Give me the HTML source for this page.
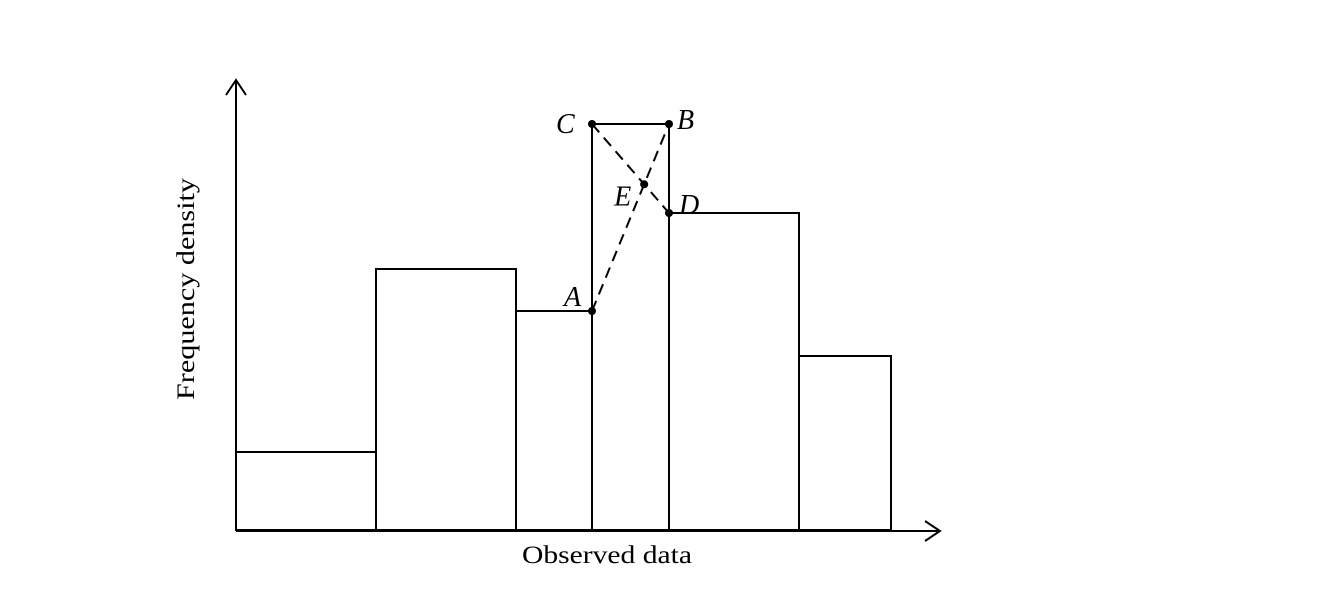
<!DOCTYPE html>
<html><head><meta charset="utf-8"><style>
body{margin:0;background:#fff;}
svg{display:block;font-family:"Liberation Serif","DejaVu Serif",serif;}
</style></head><body>
<svg id="chart" width="1322" height="602" xmlns="http://www.w3.org/2000/svg">
<g id="bars"></g>
<g id="axes">
<line x1="236" y1="531" x2="236" y2="80" stroke="#000" stroke-width="2"/>
<polyline points="226,95 236,80 246,95" fill="none" stroke="#000" stroke-width="2"/>
<line x1="236" y1="531" x2="940" y2="531" stroke="#000" stroke-width="2"/>
<polyline points="925,521 940,531 925,541" fill="none" stroke="#000" stroke-width="2"/>
<text x="607" y="563" font-size="25" text-anchor="middle" textLength="170" lengthAdjust="spacingAndGlyphs">Observed data</text>
<text transform="translate(194,289) rotate(-90)" font-size="25" text-anchor="middle" textLength="222" lengthAdjust="spacingAndGlyphs">Frequency density</text>
</g>
<g id="construct"></g>
</svg>
<script>
const edges = [0, 14, 28, 35.6, 43.3, 56.3, 65.5];
const densities = [7.8, 26.1, 21.9, 40.6, 31.7, 17.4];
const modalIndex = 3;
const NS = "http://www.w3.org/2000/svg";
const X0 = 236, XS = 10, Y0 = 530, YS = 10;
const xS = v => X0 + v * XS;
const yS = v => Y0 - v * YS;
function mk(tag, attrs, parent){const e=document.createElementNS(NS,tag);for(const k in attrs)e.setAttribute(k,attrs[k]);parent.appendChild(e);return e;}
const bars = document.getElementById('bars');
densities.forEach((d,i)=>{
  const r = mk('rect',{x:xS(edges[i]),y:yS(d),width:xS(edges[i+1])-xS(edges[i]),height:Y0-yS(d),fill:'none',stroke:'#000','stroke-width':2},bars);
  
  
});
const g = document.getElementById('construct');
const m = modalIndex;
const A = [xS(edges[m]), yS(densities[m-1])];
const B = [xS(edges[m+1]), yS(densities[m])];
const C = [xS(edges[m]), yS(densities[m])];
const D = [xS(edges[m+1]), yS(densities[m+1])];
const d1=[B[0]-A[0],B[1]-A[1]], d2=[D[0]-C[0],D[1]-C[1]];
const den = d1[0]*d2[1]-d1[1]*d2[0];
const t = ((C[0]-A[0])*d2[1]-(C[1]-A[1])*d2[0])/den;
const E = [A[0]+t*d1[0], A[1]+t*d1[1]];
const l1 = mk('line',{x1:A[0],y1:A[1],x2:B[0],y2:B[1],stroke:'#000','stroke-width':2,'stroke-dasharray':'11,7'},g);


const l2 = mk('line',{x1:C[0],y1:C[1],x2:D[0],y2:D[1],stroke:'#000','stroke-width':2,'stroke-dasharray':'11,7'},g);


const pts = [['A',A,-28,-14],['B',B,8,-4],['C',C,-36,0],['D',D,10,-8],['E',E,-30,12]];
pts.forEach(([n,p,dx,dy])=>{
  const c = mk('circle',{cx:p[0],cy:p[1],r:4,fill:'#000'},g);
  
  
  const tx = mk('text',{x:p[0]+dx,y:p[1]+dy+9,'font-size':28,'font-style':'italic'},g);
  tx.textContent = n;
  
  
});
</script>
</body></html>
